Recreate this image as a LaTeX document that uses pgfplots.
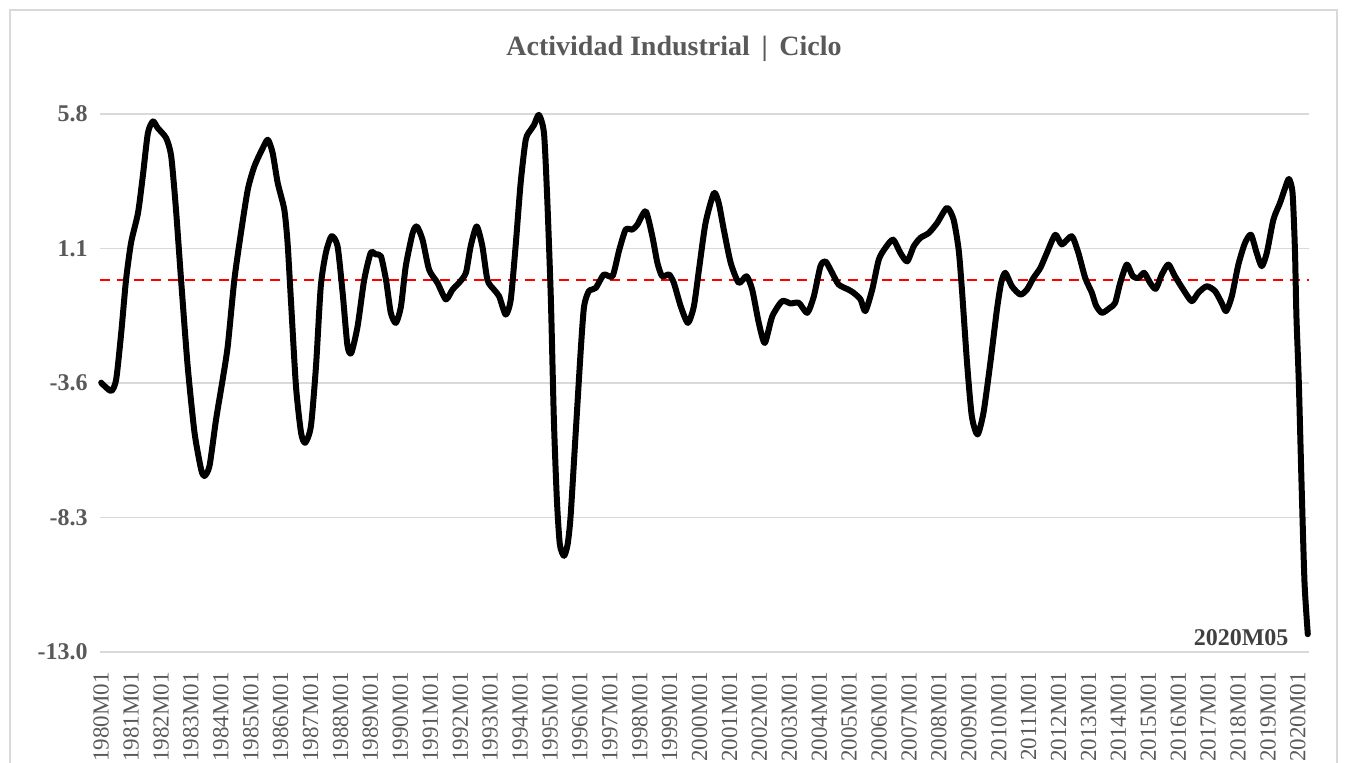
\documentclass[border=0pt]{standalone}
\usepackage{fontspec}
\setmainfont{Liberation Serif}
\usepackage{pgfplots}
\pgfplotsset{compat=1.18}
\usepackage{pgfplotstable}
\definecolor{txtgray}{HTML}{595959}
\definecolor{darkgray}{HTML}{404040}
\definecolor{gridgray}{HTML}{D9D9D9}
\pgfplotstableread{
t v
1980.00 -3.59
1980.33 -3.88
1980.50 -3.48
1980.67 -1.84
1980.83 0.00
1981.00 1.31
1981.23 2.34
1981.39 3.62
1981.56 5.13
1981.73 5.54
1981.89 5.31
1982.17 4.96
1982.34 4.32
1982.50 2.46
1982.67 0.00
1982.89 -3.01
1983.12 -5.34
1983.34 -6.62
1983.45 -6.85
1983.62 -6.50
1983.84 -4.87
1984.06 -3.48
1984.23 -2.31
1984.45 0.00
1984.67 1.64
1984.90 3.16
1985.12 3.97
1985.40 4.61
1985.57 4.90
1985.73 4.44
1985.90 3.39
1986.12 2.46
1986.23 1.29
1986.34 -0.68
1986.51 -3.71
1986.68 -5.34
1986.82 -5.69
1987.01 -5.11
1987.18 -3.01
1987.34 -0.22
1987.51 0.95
1987.70 1.53
1987.90 1.18
1988.07 -0.45
1988.23 -2.29
1988.36 -2.55
1988.57 -1.62
1988.79 0.00
1989.01 0.95
1989.18 0.89
1989.35 0.83
1989.52 0.00
1989.68 -1.15
1989.85 -1.50
1990.02 -0.92
1990.18 0.48
1990.41 1.64
1990.55 1.87
1990.74 1.41
1990.96 0.36
1991.24 -0.10
1991.52 -0.68
1991.74 -0.34
1991.96 -0.10
1992.19 0.25
1992.35 1.18
1992.55 1.87
1992.74 1.18
1992.91 0.00
1993.13 -0.34
1993.30 -0.57
1993.52 -1.21
1993.69 -0.68
1993.86 1.29
1994.02 3.39
1994.19 4.90
1994.36 5.25
1994.47 5.42
1994.63 5.77
1994.80 5.13
1994.91 2.81
1995.03 -0.68
1995.13 -4.87
1995.23 -7.66
1995.33 -9.24
1995.47 -9.64
1995.59 -9.24
1995.69 -8.25
1995.86 -5.34
1996.03 -2.43
1996.14 -0.92
1996.30 -0.39
1996.53 -0.28
1996.80 0.19
1997.09 0.13
1997.31 1.03
1997.53 1.76
1997.75 1.76
1997.92 1.93
1998.20 2.40
1998.42 1.53
1998.59 0.60
1998.75 0.13
1998.98 0.19
1999.14 -0.10
1999.37 -0.92
1999.61 -1.50
1999.81 -0.92
1999.98 0.36
2000.20 1.99
2000.48 3.04
2000.64 2.69
2000.81 1.76
2001.04 0.60
2001.31 -0.10
2001.57 0.13
2001.76 -0.34
2001.98 -1.50
2002.18 -2.20
2002.43 -1.27
2002.76 -0.74
2003.04 -0.82
2003.32 -0.80
2003.60 -1.15
2003.82 -0.57
2004.04 0.48
2004.21 0.65
2004.43 0.25
2004.65 -0.16
2004.98 -0.34
2005.15 -0.45
2005.38 -0.68
2005.54 -1.09
2005.77 -0.34
2005.99 0.71
2006.21 1.12
2006.47 1.41
2006.71 0.95
2006.94 0.65
2007.16 1.18
2007.38 1.47
2007.66 1.64
2007.94 1.99
2008.27 2.52
2008.49 2.11
2008.66 1.06
2008.77 -0.34
2008.94 -2.89
2009.10 -4.76
2009.29 -5.40
2009.49 -4.64
2009.72 -2.89
2009.94 -1.03
2010.08 -0.10
2010.22 0.25
2010.44 -0.22
2010.72 -0.51
2010.94 -0.34
2011.16 0.07
2011.39 0.42
2011.61 0.95
2011.89 1.58
2012.11 1.24
2012.44 1.53
2012.66 0.95
2012.89 0.07
2013.11 -0.44
2013.25 -0.89
2013.45 -1.15
2013.72 -0.97
2013.89 -0.80
2014.06 -0.10
2014.28 0.54
2014.48 0.13
2014.67 0.07
2014.86 0.25
2015.06 -0.10
2015.25 -0.31
2015.45 0.19
2015.67 0.54
2015.89 0.13
2016.17 -0.34
2016.45 -0.74
2016.67 -0.45
2016.95 -0.22
2017.23 -0.39
2017.45 -0.80
2017.60 -1.09
2017.79 -0.57
2018.01 0.54
2018.23 1.29
2018.43 1.58
2018.62 0.95
2018.79 0.48
2018.96 0.95
2019.18 2.11
2019.40 2.69
2019.57 3.21
2019.70 3.53
2019.82 3.04
2019.90 1.06
2019.95 -1.27
2020.03 -3.59
2020.12 -7.08
2020.22 -10.57
2020.33 -12.38
}\cycle
\begin{document}
\begin{tikzpicture}
\useasboundingbox (0,0) rectangle (673pt,381.5pt);
\draw[gridgray, line width=0.8pt] (5pt,-10pt) rectangle (668.5pt,376.5pt);
\node[font=\fontsize{14pt}{16pt}\selectfont\bfseries, text=txtgray] at (337pt,357pt) {Actividad Industrial \,|\, Ciclo};
\begin{axis}[
  at={(50pt,55.5pt)}, anchor=south west,
  scale only axis, width=604.5pt, height=269pt,
  xmin=1979.96, xmax=2020.37,
  ymin=-13, ymax=5.8,
  axis line style={draw=none},
  major tick length=0pt,
  xtick={1980,1981,...,2020},
  xticklabels={1980M01,1981M01,1982M01,1983M01,1984M01,1985M01,1986M01,1987M01,1988M01,1989M01,1990M01,1991M01,1992M01,1993M01,1994M01,1995M01,1996M01,1997M01,1998M01,1999M01,2000M01,2001M01,2002M01,2003M01,2004M01,2005M01,2006M01,2007M01,2008M01,2009M01,2010M01,2011M01,2012M01,2013M01,2014M01,2015M01,2016M01,2017M01,2018M01,2019M01,2020M01},
  x tick label style={rotate=90, anchor=east, font=\fontsize{11.5pt}{13pt}\selectfont, text=txtgray, inner sep=0pt},
  xticklabel shift=10pt,
  ytick={-13,-8.3,-3.6,1.1,5.8},
  yticklabels={-13.0,-8.3,-3.6,1.1,5.8},
  y tick label style={font=\fontsize{12pt}{14pt}\selectfont\bfseries, text=txtgray, inner sep=0pt},
  yticklabel shift=6pt,
  ymajorgrids,
  grid style={gridgray, line width=0.8pt},
  clip=false,
]
\addplot[red, dashed, line width=0.8pt, dash pattern=on 5pt off 3.5pt] coordinates {(1979.96,0) (2020.37,0)};
\addplot[black, line width=3pt, smooth, tension=0.4, line join=round, line cap=round] table[x=t,y=v] {\cycle};
\node[anchor=east, font=\fontsize{12pt}{14pt}\selectfont\bfseries, text=darkgray, inner sep=0pt] at (axis cs:2020.33,-12.38) [xshift=-9.5pt, yshift=-1.5pt] {2020M05};
\end{axis}
\end{tikzpicture}
\end{document}
